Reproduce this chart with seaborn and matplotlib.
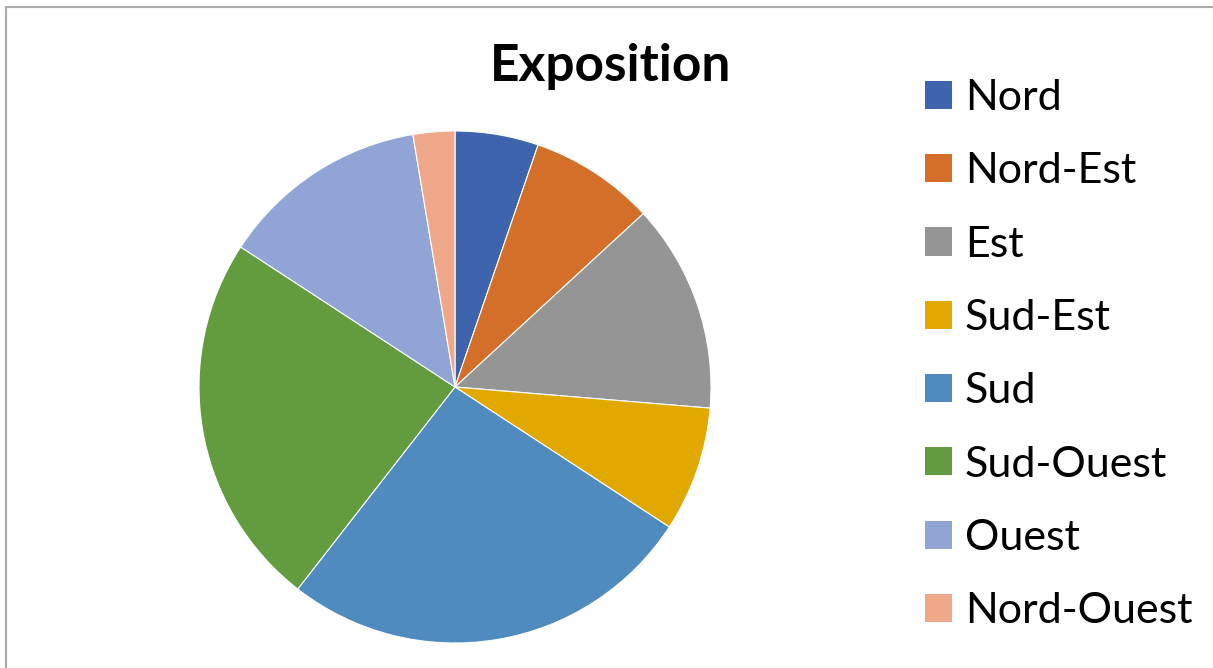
import matplotlib
matplotlib.use("Agg")
import matplotlib.pyplot as plt
import seaborn as sns
from matplotlib.patches import Patch
from matplotlib.lines import Line2D

# data (counts per exposition)
directions = ["Nord", "Nord-Est", "Est", "Sud-Est", "Sud", "Sud-Ouest", "Ouest", "Nord-Ouest"]
counts = [2, 3, 5, 3, 10, 9, 5, 1]
colors = ["#3E64AD", "#D46F29", "#959595", "#E1A900",
          "#4F8BBE", "#639B3F", "#90A5D5", "#F0A88A"]

sns.set_theme(style="white")
plt.rcParams["font.family"] = ["Lato", "DejaVu Sans"]
plt.rcParams["text.color"] = "black"

fig = plt.figure(figsize=(12.13, 6.68), dpi=100)

# pie axes: center (455, 387) px, radius 256 px
W, H = 1213, 668
ax = fig.add_axes([(455 - 256) / W, (H - 387 - 256) / H, 512 / W, 512 / H])
ax.pie(counts, colors=colors, startangle=90, counterclock=False,
       wedgeprops=dict(edgecolor="white", linewidth=0.8))
ax.set_xlim(-1, 1)
ax.set_ylim(-1, 1)
ax.set_aspect("equal")
ax.axis("off")

fig.text(611 / W, 1 - 66 / H, "Exposition", ha="center", va="center",
         fontsize=37, fontweight="bold", color="black")

handles = [Patch(facecolor=c, edgecolor="none") for c in colors]
fig.legend(handles, directions, loc="upper left",
           bbox_to_anchor=(925 / W, 1 - 79 / H), frameon=False,
           fontsize=31, handlelength=0.63, handleheight=0.63,
           handletextpad=0.3, labelspacing=0.82, borderpad=0,
           borderaxespad=0)

# chart border (top and left visible)
fig.add_artist(Line2D([5.5 / W, 1], [1 - 7 / H, 1 - 7 / H], color="#ABABAB", lw=1.5))
fig.add_artist(Line2D([5.5 / W, 5.5 / W], [0, 1 - 7 / H], color="#ABABAB", lw=1.5))

fig.savefig("out.png", dpi=100)
